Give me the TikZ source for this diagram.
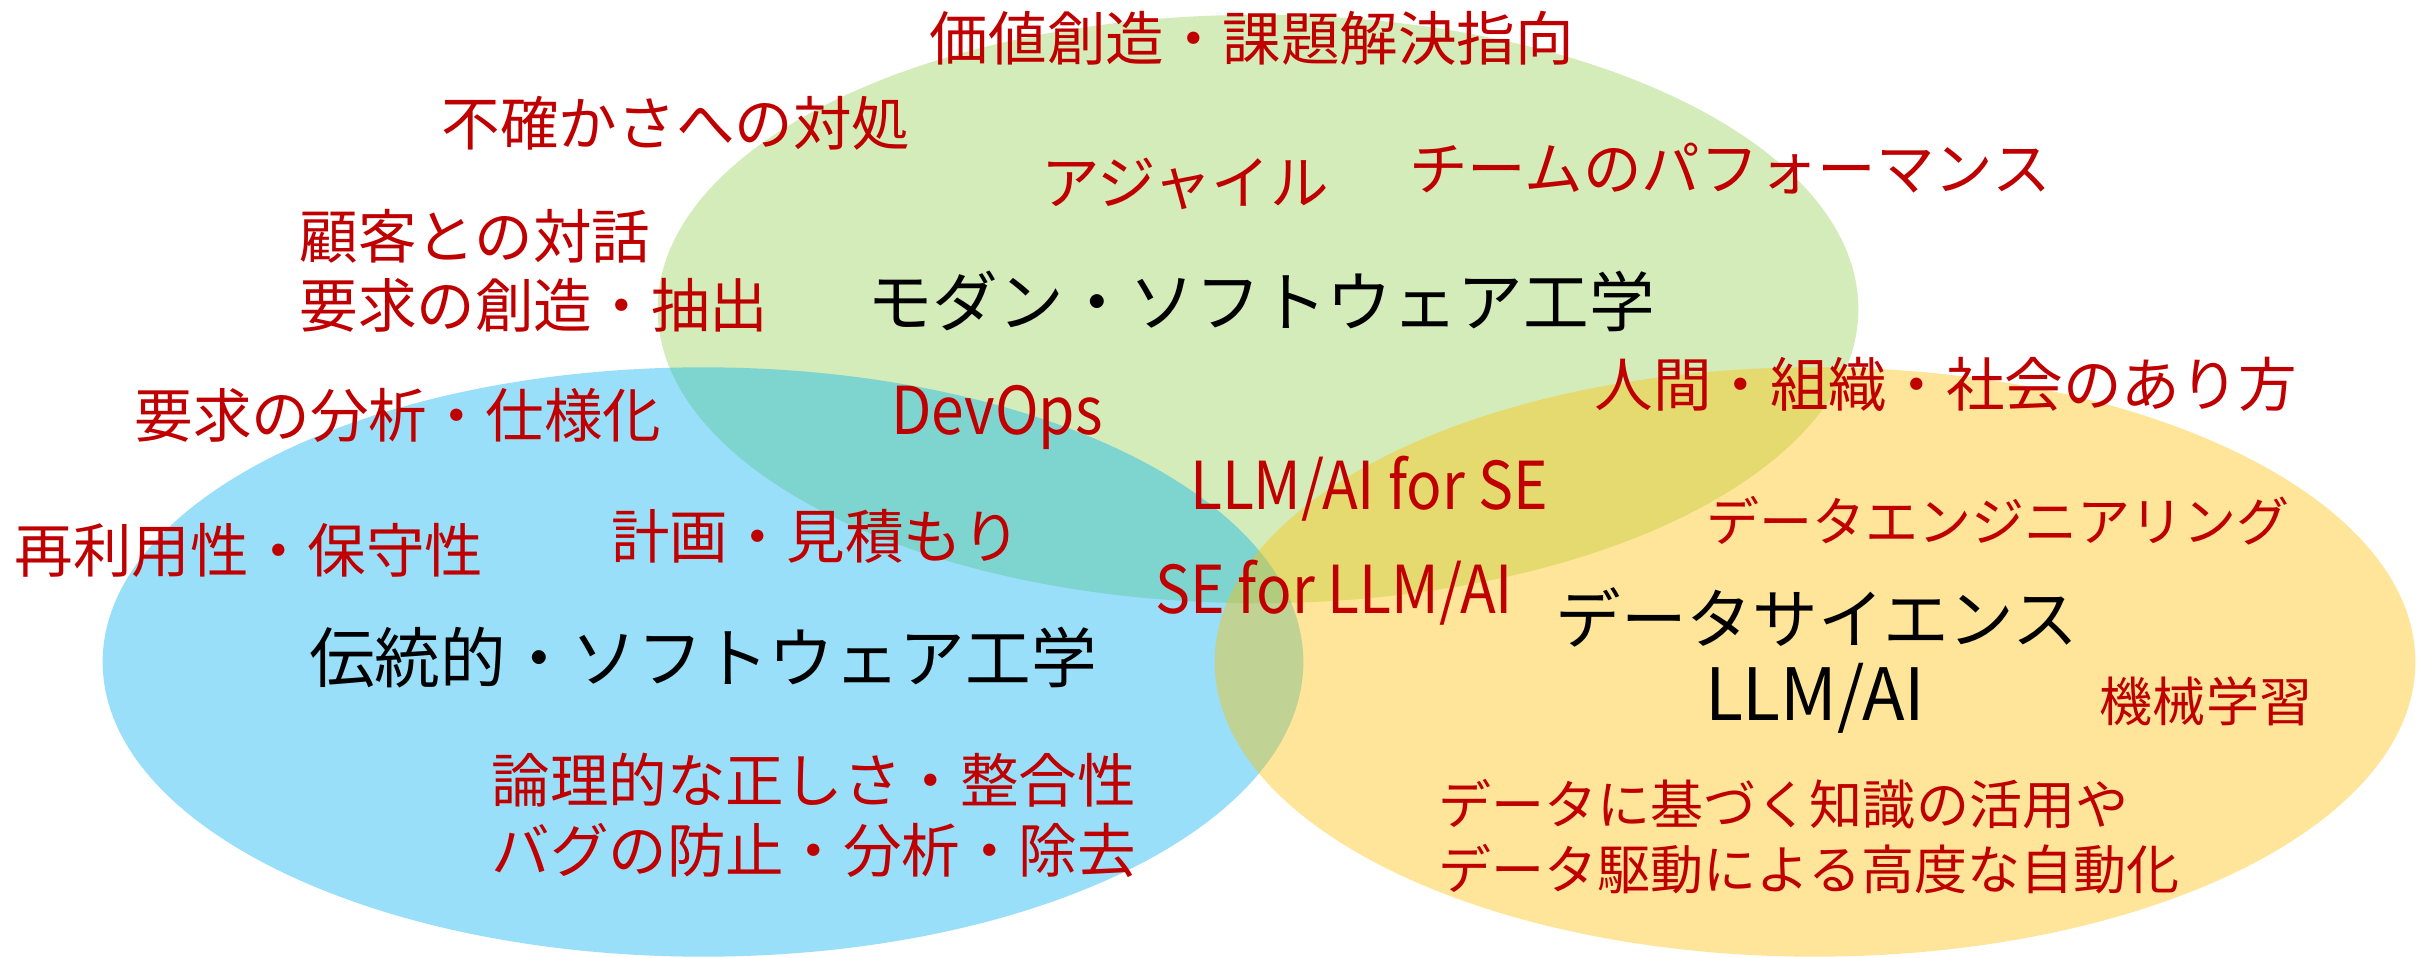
\documentclass[tikz,border=0pt]{standalone}
\usepackage{fontspec}
\setmainfont{Noto Sans CJK JP}
\definecolor{gfill}{HTML}{92D050}
\definecolor{bfill}{HTML}{00B0F0}
\definecolor{yfill}{HTML}{FFC000}
\definecolor{dred}{HTML}{C00000}
\tikzset{
  lbl/.style={inner sep=0pt, text height=14.65pt, text depth=2pt, text=dred,
    font=\fontsize{16.65pt}{20pt}\selectfont},
  lbls/.style={inner sep=0pt, text height=13.27pt, text depth=1.81pt, text=dred,
    font=\fontsize{15.08pt}{18pt}\selectfont},
  titlelbl/.style={inner sep=0pt, text height=16.42pt, text depth=2.24pt, text=black,
    font=\fontsize{18.66pt}{22pt}\selectfont},
  latlbl/.style={inner sep=0pt, text height=16.53pt, text depth=2.25pt, text=dred,
    font=\fontsize{18.78pt}{22pt}\selectfont},
  latblack/.style={inner sep=0pt, text height=18.04pt, text depth=2.46pt, text=black,
    font=\fontsize{20.5pt}{24pt}\selectfont},
  venn/.style={fill opacity=0.4}
}
\begin{document}
\begin{tikzpicture}[x=0.01cm,y=-0.01cm]
\useasboundingbox (0,0) rectangle (2430,958);
\fill[white] (0,0) rectangle (2430,958);
% ellipses
\fill[venn, gfill] (1258,309) ellipse [x radius=6cm, y radius=2.94cm];
\fill[venn, bfill] (703,662) ellipse [x radius=6cm, y radius=2.945cm];
\fill[venn, yfill] (1815,662) ellipse [x radius=6cm, y radius=2.945cm];
% titles
\node[titlelbl] (modern) at (1261,302) {モダン・ソフトウェア工学};
\node[titlelbl] (trad) at (703,658) {伝統的・ソフトウェア工学};
\node[titlelbl] (ds) at (1817,619) {データサイエンス};
\node[latblack] (llmai) at (1815,693) {\scalebox{0.97}[1]{LLM/AI}};
% red labels
\node[lbl] (kachi) at (1252,38) {価値創造・課題解決指向};
\node[lbl] (fukaku) at (676,123) {不確かさへの対処};
\node[lbl] (agile) at (1185,182) {アジャイル};
\node[lbl] (team) at (1730,168) {チームのパフォーマンス};
\node[lbl, anchor=west] (kokyaku) at (299,236) {顧客との対話};
\node[lbl, anchor=west] (yokyuA) at (299,305) {要求の創造・抽出};
\node[lbl] (ningen) at (1946,384) {人間・組織・社会のあり方};
\node[lbl] (yokyuB) at (398,415) {要求の分析・仕様化};
\node[latlbl] (devops) at (997,409) {\scalebox{0.89}[1]{DevOps}};
\node[latlbl] (llmse) at (1369,484) {\scalebox{0.89}[1]{LLM/AI for SE}};
\node[lbls] (dataeng) at (1998,521) {データエンジニアリング};
\node[lbl] (reuse) at (249,550) {再利用性・保守性};
\node[lbl] (plan) at (816,536) {計画・見積もり};
\node[latlbl] (sellm) at (1334,588) {\scalebox{0.89}[1]{SE for LLM/AI}};
\node[lbls] (ml) at (2206,701) {機械学習};
\node[lbl, anchor=west] (ronri) at (491,780) {論理的な正しさ・整合性};
\node[lbl, anchor=west] (bug) at (491,850) {バグの防止・分析・除去};
\node[lbls, anchor=west] (dataA) at (1438,804) {データに基づく知識の活用や};
\node[lbls, anchor=west] (dataB) at (1438,869) {データ駆動による高度な自動化};
\end{tikzpicture}
\end{document}
